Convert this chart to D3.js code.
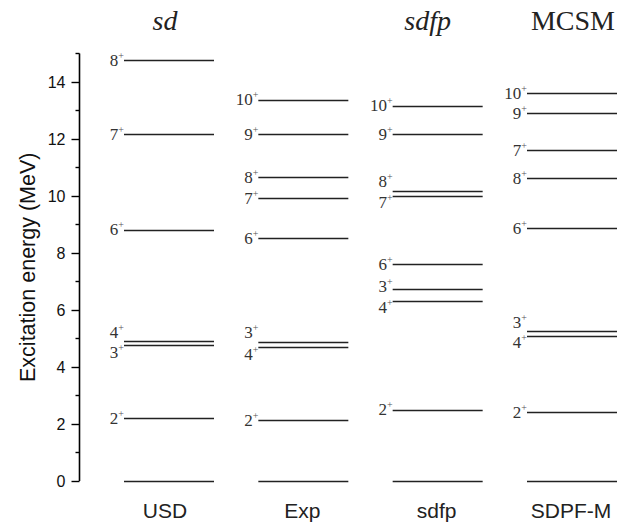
<!DOCTYPE html>
<html>
<head>
<meta charset="utf-8">
<script src="https://cdn.jsdelivr.net/npm/d3@7"></script>
<style>
  body { margin: 0; background: #fff; }
  .tick text { font-family: Arial, "Liberation Sans", sans-serif; }
</style>
</head>
<body>
<div class="chart"></div>
<script>
// Column names, titles above columns
var columns = ["USD", "Exp", "sdfp", "SDPF-M"];
var titles = ["sd", "", "sdfp", "MCSM"];

// Level spins and excitation energies (MeV) per column
var usdSpins = [0, 2, 3, 4, 6, 7, 8];
var usdEnergy = [0, 2.20, 4.77, 4.91, 8.81, 12.16, 14.77];

var expSpins = [0, 2, 4, 3, 6, 7, 8, 9, 10];
var expEnergy = [0, 2.13, 4.70, 4.88, 8.52, 9.92, 10.66, 12.16, 13.37];

var sdfpSpins = [0, 2, 4, 3, 6, 7, 8, 9, 10];
var sdfpEnergy = [0, 2.50, 6.30, 6.73, 7.61, 10.01, 10.18, 12.16, 13.16];

var sdpfmSpins = [0, 2, 4, 3, 6, 8, 7, 9, 10];
var sdpfmEnergy = [0, 2.41, 5.09, 5.25, 8.87, 10.62, 11.61, 12.90, 13.60];

var yTicks = [0, 2, 4, 6, 8, 10, 12, 14];

var svgWidth = 622;
var svgHeight = 524;

var svg = d3.select(".chart")
  .append("svg")
  .attr("width", svgWidth)
  .attr("height", svgHeight);

// Scales
var yScale = d3.scaleLinear().domain([0, 15]).range([481, 53.5]);
var xScale = d3.scalePoint().domain(columns).range([169, 572]);
var halfLine = 45;

// Build level table from the arrays
var table = [
  {col: "USD", spins: usdSpins, energy: usdEnergy},
  {col: "Exp", spins: expSpins, energy: expEnergy},
  {col: "sdfp", spins: sdfpSpins, energy: sdfpEnergy},
  {col: "SDPF-M", spins: sdpfmSpins, energy: sdpfmEnergy}
];
var levels = [];
table.forEach(function(t) {
  t.energy.forEach(function(e, i) {
    var above = i < t.energy.length - 1 ? t.energy[i + 1] - e : 99;
    var below = i > 0 ? e - t.energy[i - 1] : 99;
    // nudge labels apart when two levels sit close together
    var shift = 0;
    if (below < 0.3) shift = -9;
    else if (above < 0.3) shift = 7;
    else if (below < 0.5) shift = -3;
    else if (above < 0.5) shift = 6;
    levels.push({col: t.col, spin: t.spins[i], e: e, shift: shift});
  });
});

// Y axis
var axis = d3.axisLeft(yScale)
  .tickValues(yTicks)
  .tickSize(8)
  .tickPadding(6)
  .tickFormat(d3.format("d"))
  .tickSizeOuter(0);

var gAxis = svg.append("g")
  .attr("transform", "translate(79.5,0)")
  .call(axis);
gAxis.select(".domain").attr("stroke", "#000").attr("stroke-width", 1.6)
  .attr("d", "M0," + yScale(15) + "V" + yScale(0));
gAxis.selectAll(".tick line").attr("stroke", "#000").attr("stroke-width", 1.4);
gAxis.selectAll(".tick text").attr("font-size", 16).attr("fill", "#111");

// minor ticks at odd values
gAxis.selectAll(".minor")
  .data(d3.range(1, 16, 2))
  .enter().append("line")
  .attr("class", "minor")
  .attr("x1", -4).attr("x2", 0)
  .attr("y1", function(d) { return yScale(d); })
  .attr("y2", function(d) { return yScale(d); })
  .attr("stroke", "#000").attr("stroke-width", 1.4);

// Y axis title
svg.append("text")
  .attr("transform", "translate(27," + yScale(7.5) + ") rotate(-90)")
  .attr("text-anchor", "middle")
  .attr("dy", "0.35em")
  .attr("font-family", "Arial, 'Liberation Sans', sans-serif")
  .attr("font-size", 21.5)
  .attr("fill", "#111")
  .text("Excitation energy (MeV)");

// Level lines
svg.selectAll(".level")
  .data(levels)
  .enter().append("line")
  .attr("class", "level")
  .attr("x1", function(d) { return xScale(d.col) - halfLine; })
  .attr("x2", function(d) { return xScale(d.col) + halfLine; })
  .attr("y1", function(d) { return Math.round(yScale(d.e)) + 0.5; })
  .attr("y2", function(d) { return Math.round(yScale(d.e)) + 0.5; })
  .attr("stroke", "#222")
  .attr("stroke-width", 1.3);

// Spin labels (skip ground state)
var labels = svg.selectAll(".spin")
  .data(levels.filter(function(d) { return d.e > 0; }))
  .enter().append("text")
  .attr("class", "spin")
  .attr("x", function(d) { return xScale(d.col) - halfLine; })
  .attr("y", function(d) { return yScale(d.e) + 5.5 + d.shift; })
  .attr("text-anchor", "end")
  .attr("font-family", "'Liberation Serif', 'Times New Roman', serif")
  .attr("font-size", 17)
  .attr("fill", "#333");
labels.append("tspan").text(function(d) { return d.spin; });
labels.append("tspan")
  .attr("font-size", 10)
  .attr("dy", -7)
  .attr("fill", "#555")
  .text("+");

// Column titles on top
var titleShift = [-4, 0, -10, 1];
svg.selectAll(".title")
  .data(titles)
  .enter().append("text")
  .attr("class", "title")
  .attr("x", function(d, i) { return xScale(columns[i]) + titleShift[i]; })
  .attr("y", 30)
  .attr("text-anchor", "middle")
  .attr("font-family", "'Liberation Serif', 'Times New Roman', serif")
  .attr("font-size", 28)
  .attr("font-style", function(d) { return d === "MCSM" ? "normal" : "italic"; })
  .attr("fill", "#222")
  .text(function(d) { return d; });

// Column names at bottom
svg.selectAll(".colname")
  .data(columns)
  .enter().append("text")
  .attr("class", "colname")
  .attr("x", function(d, i) { return xScale(d) + [-4, -1, -1, -1][i]; })
  .attr("y", 518)
  .attr("text-anchor", "middle")
  .attr("font-family", "Arial, 'Liberation Sans', sans-serif")
  .attr("font-size", 21)
  .attr("fill", "#222")
  .text(function(d) { return d; });
</script>
</body>
</html>
